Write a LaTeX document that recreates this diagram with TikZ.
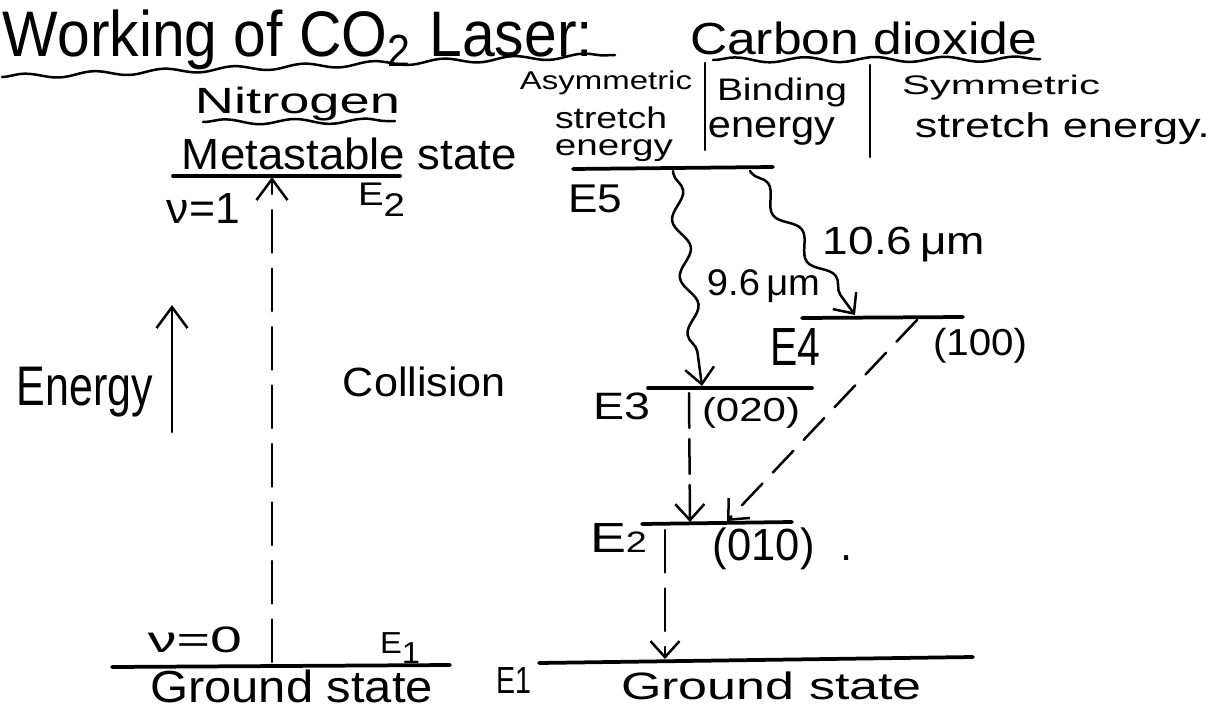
\documentclass[tikz,border=0pt]{standalone}
\usepackage{fontspec}
\setmainfont{Liberation Sans}
\usepackage{graphicx}
\usetikzlibrary{arrows.meta,decorations.pathmorphing}
\newlength{\px}\setlength{\px}{0.02cm}
\newcommand{\fitbox}[3]{\resizebox*{#1\px}{#2\px}{#3}}
\begin{document}
\begin{tikzpicture}[x=0.02cm,y=-0.02cm,
  lbl/.style={inner sep=0pt,outer sep=0pt,anchor=center},
  pen/.style={line width=0.05cm,line cap=round,line join=round},
  level/.style={line width=0.075cm,line cap=round},
  tip/.style={-{Straight Barb[length=0.42cm,width=0.62cm]}},
  smalltip/.style={-{Straight Barb[length=0.32cm,width=0.58cm]}},
  dashA/.style={dash pattern=on 0.85cm off 0.32cm},
  dashB/.style={dash pattern=on 0.7cm off 0.22cm},
  dashC/.style={dash pattern=on 0.6cm off 0.3cm},
  wave/.style={decorate,decoration={snake,amplitude=0.15cm,segment length=1.15cm,pre length=0.05cm,post length=0.3cm}},
  uline/.style={decorate,decoration={snake,amplitude=0.05cm,segment length=1.4cm}}
]
\useasboundingbox (0,0) rectangle (1225,720);

% ---------------- headings ----------------
\node[lbl] (title) at (298,40) {\fitbox{590}{60}{Working of CO\textsubscript{2} Laser:}};
\coordinate (tuA) at (2,77);
\coordinate (tuB) at (615,55);
\draw[pen,uline] (tuA) -- (tuB);

\node[lbl] (carbon) at (863.5,38.5) {\fitbox{347}{33}{Carbon dioxide}};
\coordinate (cuA) at (713,60);
\coordinate (cuB) at (1040,59);
\draw[pen,uline] (cuA) -- (cuB);

\node[lbl] (nitrogen) at (297.5,104) {\fitbox{205}{34}{Nitrogen}};
\coordinate (nuA) at (203,122);
\coordinate (nuB) at (395,121);
\draw[pen,uline] (nuA) -- (nuB);

% column headings of CO2
\node[lbl] (asym) at (606,83) {\fitbox{172}{24}{Asymmetric}};
\node[lbl] (stretchA) at (611,117.5) {\fitbox{112}{22}{stretch}};
\node[lbl] (energyA) at (614,151) {\fitbox{118}{22}{energy}};
\node[lbl] (binding) at (782,92.5) {\fitbox{130}{29}{Binding}};
\node[lbl] (energyB) at (771.5,131) {\fitbox{127}{28}{energy}};
\node[lbl] (symm) at (1001,87.5) {\fitbox{198}{25}{Symmetric}};
\node[lbl] (stretchS) at (1062.5,129) {\fitbox{295}{32}{stretch energy.}};
\coordinate (s1t) at (705,63);
\coordinate (s1b) at (705,150);
\coordinate (s2t) at (870,65);
\coordinate (s2b) at (870,157);
\draw[pen] (s1t) -- (s1b);
\draw[pen] (s2t) -- (s2b);

% ---------------- nitrogen side ----------------
\node[lbl] (meta) at (349.5,154) {\fitbox{335}{32}{Metastable state}};
\coordinate (n2L) at (173,176);
\coordinate (n2R) at (400,176);
\draw[level] (n2L) -- (n2R);
\node[lbl] (nu1) at (203.5,208) {\fitbox{73}{30}{ν=1}};
\node[lbl] (E2N) at (381.5,199.5) {\fitbox{47}{34}{E\raisebox{-0.35em}{2}}};

\coordinate (colB) at (272,662);
\coordinate (colT) at (272,177);
\draw[pen,dashA,tip] (colB) -- (colT);
\node[lbl] (collision) at (424.5,382) {\fitbox{163}{30}{Collision}};

\coordinate (enB) at (172,432);
\coordinate (enT) at (172,305);
\draw[pen,tip] (enB) -- (enT);
\node[lbl] (energy) at (85,392) {\fitbox{136}{50}{Energy}};

\coordinate (n1L) at (112,667);
\coordinate (n1R) at (450,665);
\draw[level] (n1L) -- (n1R);
\node[lbl] (nu0) at (195,640) {\fitbox{94}{26}{ν=0}};
\node[lbl] (E1N) at (400,648) {\fitbox{40}{30}{E\raisebox{-0.3em}{1}}};
\node[lbl] (groundL) at (291.5,686.5) {\fitbox{283}{33}{Ground state}};
\node[lbl] (E1mid) at (513.5,680) {\fitbox{35}{26}{E1}};

% ---------------- carbon dioxide side ----------------
\coordinate (c5L) at (573,169);
\coordinate (c5R) at (773,167);
\draw[level] (c5L) -- (c5R);
\node[lbl] (E5) at (595,199) {\fitbox{54}{28}{E5}};

\coordinate (c4L) at (802,318);
\coordinate (c4R) at (963,317);
\draw[level] (c4L) -- (c4R);
\node[lbl] (E4) at (795,346.5) {\fitbox{50}{37}{E4}};
\node[lbl] (p100) at (980,345.5) {\fitbox{94}{35}{(100)}};

\coordinate (c3L) at (648,388);
\coordinate (c3R) at (812,388);
\draw[level] (c3L) -- (c3R);
\node[lbl] (E3) at (621.5,406.5) {\fitbox{57}{27}{E3}};
\node[lbl] (p020) at (751,412.5) {\fitbox{98}{31}{(020)}};

\coordinate (c2L) at (642,524);
\coordinate (c2R) at (792,522);
\draw[level] (c2L) -- (c2R);
\node[lbl] (E2C) at (618.5,537.5) {\fitbox{57}{29}{E{\scriptsize 2}}};
\node[lbl] (p010) at (783,549) {\fitbox{140}{42}{(010)\hspace{0.6em}.}};

\coordinate (c1L) at (539,663);
\coordinate (c1R) at (973,657);
\draw[level] (c1L) -- (c1R);
\node[lbl] (groundR) at (771.5,686) {\fitbox{301}{28}{Ground state}};

% transitions
\coordinate (w96a) at (673,171);
\coordinate (w96b) at (702,386);
\draw[pen,wave,smalltip] (w96a) -- (w96b);
\node[lbl] (l96) at (763.5,286.5) {\fitbox{113}{33}{9.6\,μm}};

\coordinate (w106a) at (750,171);
\coordinate (w106b) at (855,315);
\draw[pen,wave,smalltip] (w106a) -- (w106b);
\node[lbl] (l106) at (904,244.5) {\fitbox{162}{35}{10.6\,μm}};

\coordinate (d32a) at (689,393);
\coordinate (d32b) at (690,522);
\draw[pen,dashB,smalltip] (d32a) -- (d32b);

\coordinate (d42a) at (917,320);
\coordinate (d42b) at (727,521);
\draw[pen,dashC,smalltip] (d42a) -- (d42b);

\coordinate (d21a) at (665,530);
\coordinate (d21b) at (665,659);
\draw[pen,dashA,smalltip] (d21a) -- (d21b);
\end{tikzpicture}
\end{document}
